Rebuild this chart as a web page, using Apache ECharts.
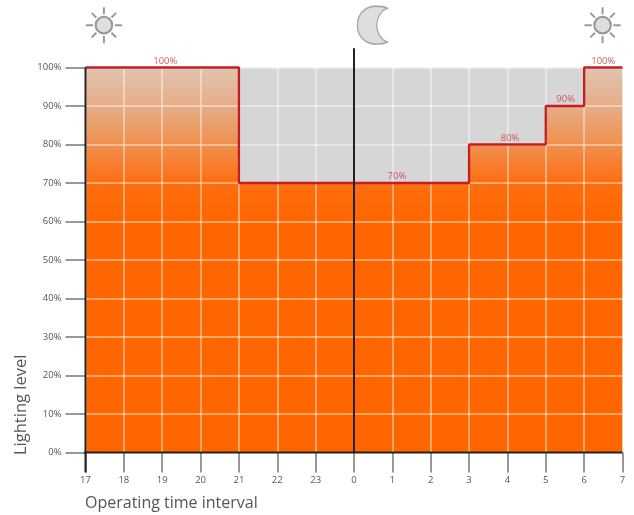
<!DOCTYPE html>
<html><head><meta charset="utf-8">
<style>html,body{margin:0;padding:0;background:#fff}#c{width:634px;height:515px}</style>
<script src="https://cdn.jsdelivr.net/npm/echarts@6/dist/echarts.min.js"></script>
</head><body><div id="c"></div>
<script>
const hourLabels = ['17','18','19','20','21','22','23','0','1','2','3','4','5','6','7'];
const levels = [100,100,100,100,70,70,70,70,70,70,80,80,90,100,100];
const annotationPos = [2.08,8.12,11.07,12.52,13.5];
const annotationLevel = [100,70,80,90,100];
const midnightIndex = 7;
const iconPos = [[0.48,111],[13.48,111]];
const moonPos = [[7.48,111]];
const sunPath = 'path://M50 27A23 23 0 1 1 50 73A23 23 0 1 1 50 27ZM50 0L50 20M50 80L50 100M0 50L20 50M80 50L100 50M16 16L29 29M71 71L84 84M84 16L71 29M29 71L16 84Z';
const moonPath = 'path://M29 3C26 1 22 1 17 1C7 2 1 9 1 19C1 29 7 36 17 37C22 37 26 37 29 35C23 33 19 26 19 19C19 12 23 5 29 3Z';
const font = '"Open Sans"';
const chart = echarts.init(document.getElementById('c'),null,{renderer:'canvas'});
const points = levels.map((v,i)=>[i,v]);
chart.setOption({
  animation:false,
  grid:{left:85.5,right:11.5,top:67.5,bottom:62.5,show:true,backgroundColor:'#D6D6D6',borderWidth:0},
  xAxis:{type:'value',min:0,max:14,interval:1,z:3,
    axisLine:{show:false},
    axisTick:{show:true,length:20,lineStyle:{color:'#777',width:1.5}},
    axisLabel:{margin:23,fontFamily:font,fontSize:9.5,color:'#555',showMinLabel:true,showMaxLabel:true,formatter:v=>hourLabels[v]},
    splitLine:{show:true,lineStyle:{color:'rgba(255,255,255,0.55)',width:1.5}}},
  yAxis:{type:'value',min:0,max:100,interval:10,z:3,
    axisLine:{show:false},
    axisTick:{show:true,length:20,lineStyle:{color:'#777',width:1.5}},
    axisLabel:{margin:24,fontFamily:font,fontSize:9.5,color:'#555',formatter:'{value}%'},
    splitLine:{show:true,lineStyle:{color:'rgba(255,255,255,0.55)',width:1.5}}},
  graphic:[
    {type:'text',x:85,y:503,z:10,style:{text:'Operating time interval',font:'16px '+font,fill:'#555',textAlign:'left',textVerticalAlign:'middle'}},
    {type:'text',x:21,y:455,z:10,rotation:Math.PI/2,style:{text:'Lighting level',font:'16.5px '+font,fill:'#555',textAlign:'left',textVerticalAlign:'middle'}}
  ],
  series:[
    {type:'line',name:'area',z:1,step:'end',symbol:'none',data:points,lineStyle:{width:0},
      areaStyle:{opacity:1,color:new echarts.graphic.LinearGradient(0,0,0,1,[
        {offset:0,color:'#E0C4B0'},{offset:0.1,color:'#E6AD88'},{offset:0.2,color:'#F0904F'},{offset:0.3,color:'#FD6E10'},{offset:0.4,color:'#FF6600'},{offset:1,color:'#FF6600'}])}},
    {type:'line',name:'level',z:5,step:'end',symbol:'none',clip:false,data:points,lineStyle:{color:'#C41E24',width:2.3}},
    {type:'line',name:'leftAxis',z:6,symbol:'none',clip:false,data:[[0,-5.2],[0,100]],lineStyle:{color:'#222',width:2}},
    {type:'line',name:'baseline',z:6,symbol:'none',clip:false,data:[[-0.53,0],[14,0]],lineStyle:{color:'#222',width:2}},
    {type:'line',name:'midnight',z:6,symbol:'none',clip:false,data:[[midnightIndex,0],[midnightIndex,105]],lineStyle:{color:'#222',width:2}},
    {type:'scatter',name:'notes',z:7,symbol:'circle',symbolSize:1,clip:false,itemStyle:{color:'rgba(0,0,0,0)'},data:annotationPos.map((x,i)=>[x,annotationLevel[i]]),
      label:{show:true,position:'top',distance:1,fontFamily:font,fontSize:9.5,color:'#C8323C',formatter:p=>p.value[1]+'%'}},
    {type:'scatter',name:'sun',z:7,clip:false,symbol:sunPath,symbolSize:36,data:iconPos,silent:true,
      itemStyle:{color:'#D6D6D6',borderColor:'#808080',borderWidth:2}},
    {type:'scatter',name:'moon',z:7,clip:false,symbol:moonPath,symbolSize:[30,38],data:moonPos,silent:true,
      itemStyle:{color:'#D6D6D6',borderColor:'#999',borderWidth:1.5}}
  ]
});
</script></body></html>
